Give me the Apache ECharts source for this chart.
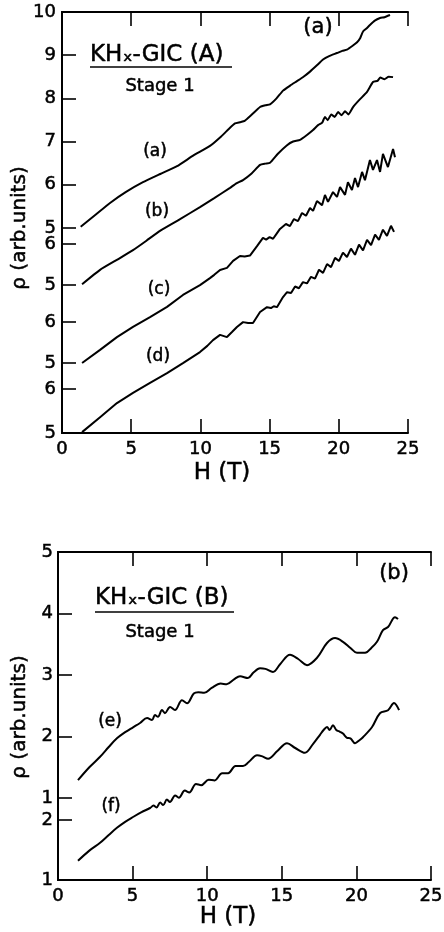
<!DOCTYPE html>
<html>
<head>
<meta charset="utf-8">
<script src="https://cdn.jsdelivr.net/npm/echarts@6/dist/echarts.min.js"></script>
<style>html,body{margin:0;padding:0;background:#fff}#c{width:444px;height:932px}</style>
</head>
<body>
<div id="c"></div>
<script>
// ---- data (H in tesla, rho in arb. units on each curve's own scale) ----
const xTicks = [0, 5, 10, 15, 20, 25];
const yTicksA1 = [5, 6, 7, 8, 9, 10];
const yTicksA2 = [5, 6];
const yTicksA3 = [5, 6];
const yTicksA4 = [5, 6];
const yTicksB1 = [1, 2, 3, 4, 5];
const yTicksB2 = [1, 2];

const curveA = [[1.35,5.03],[2.4,5.3],[3.47,5.58],[4.6,5.83],[5.85,6.06],[7.1,6.25],[8.31,6.43],[9.5,6.68],[10.69,6.9],[11.5,7.12],[12.14,7.32],[12.5,7.42],[12.86,7.45],[13.2,7.48],[13.7,7.62],[14.31,7.8],[14.7,7.84],[15.03,7.86],[15.5,8.0],[15.97,8.18],[16.5,8.3],[16.98,8.4],[17.45,8.5],[17.92,8.62],[18.4,8.76],[18.86,8.9],[19.3,8.98],[19.87,9.05],[20.25,9.1],[20.59,9.13],[21.0,9.22],[21.32,9.3],[21.55,9.4],[21.75,9.55],[22.0,9.62],[22.25,9.7],[22.6,9.8],[22.98,9.86],[23.3,9.88],[23.7,9.93]];

const curveB = [[1.45,5.02],[2.75,5.37],[4.0,5.62],[5.13,5.85],[6.1,6.08],[7.08,6.32],[8.5,6.6],[9.97,6.9],[11.0,7.12],[12.14,7.37],[12.6,7.48],[13.08,7.56],[13.7,7.72],[14.31,7.93],[14.7,7.96],[15.03,7.98],[15.6,8.2],[16.26,8.41],[16.7,8.5],[17.2,8.54],[17.7,8.66],[18.14,8.78],[18.5,8.9],[18.8,8.96],[19.0,9.1],[19.2,9.02],[19.45,9.16],[19.7,9.1],[19.95,9.22],[20.2,9.14],[20.45,9.24],[20.7,9.16],[21.03,9.34],[21.5,9.52],[22.04,9.71],[22.47,9.95],[22.8,9.98],[23.0,10.06],[23.3,10.02],[23.6,10.08],[23.92,10.07]];

const curveC = [[1.45,5.0],[2.75,5.32],[3.97,5.63],[5.13,5.88],[6.36,6.12],[7.59,6.37],[8.74,6.66],[9.97,6.9],[10.69,7.07],[11.0,7.15],[11.42,7.27],[11.92,7.32],[12.36,7.49],[12.86,7.61],[13.2,7.6],[13.58,7.62],[14.09,7.85],[14.52,8.05],[14.75,8.01],[15.0,8.07],[15.25,8.03],[15.5,8.15],[15.75,8.27],[16.18,8.39],[16.47,8.34],[16.76,8.51],[17.05,8.46],[17.34,8.66],[17.63,8.59],[17.92,8.78],[18.14,8.71],[18.42,8.95],[18.79,8.85],[19.0,9.1],[19.22,8.93],[19.58,9.17],[19.87,9.05],[20.09,9.29],[20.45,9.1],[20.66,9.41],[20.95,9.22],[21.17,9.51],[21.39,9.29],[21.68,9.66],[21.89,9.46],[22.25,9.95],[22.47,9.71],[22.76,9.95],[22.98,9.66],[23.19,10.1],[23.55,9.78],[23.92,10.22],[24.06,10.02]];

const curveD = [[1.45,5.02],[2.75,5.36],[3.97,5.68],[5.13,5.91],[6.36,6.14],[7.59,6.36],[8.74,6.59],[9.97,6.84],[10.5,6.98],[10.91,7.11],[11.42,7.23],[11.92,7.18],[12.3,7.3],[12.64,7.41],[13.08,7.52],[13.45,7.5],[13.8,7.5],[14.31,7.75],[14.81,7.86],[15.1,7.84],[15.3,7.88],[15.53,7.86],[15.97,8.09],[16.26,8.2],[16.55,8.18],[16.84,8.33],[17.12,8.29],[17.41,8.43],[17.7,8.4],[17.99,8.55],[18.28,8.51],[18.57,8.71],[18.86,8.64],[19.15,8.84],[19.44,8.77],[19.73,8.98],[20.01,8.91],[20.3,9.1],[20.59,9.0],[20.88,9.19],[21.17,9.05],[21.46,9.28],[21.75,9.15],[22.04,9.39],[22.33,9.27],[22.62,9.51],[22.9,9.39],[23.19,9.62],[23.48,9.48],[23.77,9.71],[23.99,9.57]];

const curveE = [[1.34,1.29],[2.1,1.5],[2.82,1.67],[3.4,1.83],[3.95,1.97],[4.5,2.07],[5.03,2.15],[5.5,2.22],[5.97,2.3],[6.3,2.27],[6.5,2.35],[6.7,2.32],[6.97,2.43],[7.17,2.38],[7.51,2.48],[7.84,2.43],[8.31,2.59],[8.65,2.54],[9.1,2.7],[9.4,2.72],[9.8,2.71],[10.3,2.79],[10.9,2.86],[11.3,2.85],[11.8,2.93],[12.2,2.98],[12.73,2.95],[13.1,3.04],[13.54,3.11],[13.9,3.1],[14.41,3.05],[14.9,3.18],[15.55,3.33],[16.1,3.26],[16.69,3.16],[17.36,3.28],[18.03,3.52],[18.57,3.6],[19.1,3.54],[19.6,3.44],[20.04,3.36],[20.58,3.36],[21.0,3.44],[21.38,3.54],[21.78,3.73],[22.12,3.78],[22.59,3.94],[22.79,3.91]];

const curveF = [[1.34,1.32],[2.1,1.49],[2.82,1.62],[3.4,1.75],[3.95,1.87],[4.5,1.97],[5.03,2.05],[5.6,2.13],[6.17,2.2],[6.4,2.24],[6.6,2.21],[6.85,2.29],[7.05,2.25],[7.3,2.34],[7.5,2.3],[7.85,2.41],[8.1,2.37],[8.5,2.49],[8.8,2.46],[9.25,2.6],[9.6,2.58],[10.1,2.67],[10.5,2.66],[11.0,2.78],[11.4,2.78],[11.9,2.9],[12.4,2.9],[12.8,2.97],[13.34,3.08],[13.7,3.06],[14.08,3.02],[14.7,3.15],[15.35,3.28],[15.9,3.2],[16.55,3.12],[17.1,3.27],[17.56,3.42],[17.8,3.5],[18.03,3.55],[18.2,3.5],[18.43,3.58],[18.65,3.5],[18.9,3.47],[19.1,3.44],[19.37,3.37],[19.6,3.36],[19.91,3.28],[20.2,3.33],[20.44,3.38],[21.05,3.55],[21.58,3.78],[22.12,3.83],[22.52,3.95],[22.86,3.83]];

// ---- styling ----
const FONT = 'DejaVu Sans';
const INK = '#000';
const axisLineStyle = { show: true, lineStyle: { color: INK, width: 2 } };
const labelInk = { color: INK, fontFamily: FONT, fontSize: 18, textBorderColor: INK, textBorderWidth: 0.5 };

function frameX(gridIndex, pos, withLabels, margin) {
  return {
    type: 'value', gridIndex, position: pos, min: 0, max: 25, interval: 5,
    axisLine: axisLineStyle,
    axisTick: { show: true, inside: true, length: 14, lineStyle: { color: INK, width: 1.6 }, customValues: xTicks },
    axisLabel: withLabels ? Object.assign({ show: true, customValues: xTicks, margin }, labelInk) : { show: false },
    splitLine: { show: false }
  };
}
function hiddenX(gridIndex) {
  return { type: 'value', gridIndex, min: 0, max: 25, show: false, splitLine: { show: false } };
}
function segY(gridIndex, min, max, ticks, margin) {
  return {
    type: 'value', gridIndex, position: 'left', min, max,
    axisLine: axisLineStyle,
    axisTick: { show: true, inside: true, length: 14, lineStyle: { color: INK, width: 1.6 }, customValues: ticks },
    axisLabel: Object.assign({ show: true, customValues: ticks, margin }, labelInk),
    splitLine: { show: false }
  };
}
function rightY(gridIndex) {
  return { type: 'value', gridIndex, position: 'right', min: 0, max: 1,
    axisLine: axisLineStyle, axisTick: { show: false }, axisLabel: { show: false }, splitLine: { show: false } };
}
function curve(data, xi, yi, smooth) {
  return { type: 'line', data, xAxisIndex: xi, yAxisIndex: yi, showSymbol: false, symbol: 'none',
    clip: false, smooth, lineStyle: { color: INK, width: 2 }, silent: true };
}
function txt(text, x, y, size, align, extra) {
  return Object.assign({ type: 'text', x, y, silent: true,
    style: { text, font: size + 'px "' + FONT + '"', fill: INK, stroke: INK, lineWidth: 0.5,
      textAlign: align || 'center', textVerticalAlign: 'middle', align: align || 'center', verticalAlign: 'middle' } }, extra || {});
}
function hline(x1, x2, y) {
  return { type: 'line', silent: true, shape: { x1, y1: y, x2, y2: y }, style: { stroke: INK, lineWidth: 1.6 } };
}

const g = (left, top, width, height) => ({ left, top, width, height, outerBoundsMode: 'none', containLabel: false });

const option = {
  animation: false,
  backgroundColor: '#fff',
  grid: [
    g(62, 12, 346, 421),   // 0 panel (a) frame
    g(62, 12, 346, 216),   // 1 curve (a) scale
    g(62, 235, 346, 50),   // 2 curve (b) scale
    g(62, 305, 346, 58),   // 3 curve (c) scale
    g(62, 377, 346, 56),   // 4 curve (d) scale
    g(58, 552, 373, 328),  // 5 panel (b) frame
    g(58, 552, 373, 246),  // 6 curve (e) scale
    g(58, 807, 373, 73)    // 7 curve (f) scale
  ],
  xAxis: [
    frameX(0, 'bottom', true, 7),
    frameX(0, 'top', false),
    hiddenX(1), hiddenX(2), hiddenX(3), hiddenX(4),
    frameX(5, 'bottom', true, 7),
    frameX(5, 'top', false),
    hiddenX(6), hiddenX(7)
  ],
  yAxis: [
    rightY(0),
    segY(1, 5, 10, yTicksA1, 6),
    segY(2, 5, 5 + 50 / 41, yTicksA2, 6),
    segY(3, 5, 5 + 58 / 41, yTicksA3, 6),
    segY(4, 5, 5 + 56 / 44, yTicksA4, 6),
    rightY(5),
    segY(6, 1, 5, yTicksB1, 5),
    segY(7, 1, 1 + 73 / 60, yTicksB2, 5)
  ],
  series: [
    curve(curveA, 2, 1, 0.15),
    curve(curveB, 3, 2, 0.15),
    curve(curveC, 4, 3, false),
    curve(curveD, 5, 4, false),
    curve(curveE, 8, 6, 0.35),
    curve(curveF, 9, 7, 0.35)
  ],
  graphic: { elements: [
    // panel (a)
    txt('ρ (arb.units)', 20, 228, 20, 'center', { rotation: Math.PI / 2 }),
    txt('H (T)', 222, 473, 23),
    txt('KHₓ-GIC (A)', 90, 55, 23, 'left'),
    hline(90, 232, 67),
    txt('Stage 1', 160, 86, 18),
    txt('(a)', 318, 28, 21),
    txt('(a)', 155, 152, 17),
    txt('(b)', 157, 212, 17),
    txt('(c)', 159, 290, 17),
    txt('(d)', 158, 357, 17),
    // panel (b)
    txt('ρ (arb.units)', 20, 717, 20, 'center', { rotation: Math.PI / 2 }),
    txt('H (T)', 228, 917, 23),
    txt('KHₓ-GIC (B)', 95, 598, 23, 'left'),
    hline(95, 234, 612),
    txt('Stage 1', 160, 632, 18),
    txt('(b)', 394, 574, 21),
    txt('(e)', 110, 722, 17),
    txt('(f)', 111, 807, 17)
  ] }
};

const chart = echarts.init(document.getElementById('c'), null, { renderer: 'canvas', width: 444, height: 932 });
chart.setOption(option);
</script>
</body>
</html>
